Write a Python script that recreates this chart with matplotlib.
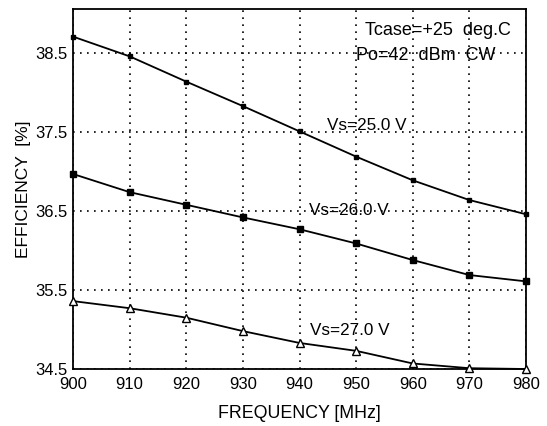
import matplotlib
matplotlib.use("Agg")
import matplotlib.pyplot as plt

plt.rcParams['font.family'] = ['Liberation Sans', 'DejaVu Sans']

freq = [900, 910, 920, 930, 940, 950, 960, 970, 980]
eff_25v = [38.71, 38.46, 38.14, 37.83, 37.51, 37.19, 36.89, 36.64, 36.46]
eff_26v = [36.97, 36.74, 36.58, 36.42, 36.27, 36.09, 35.88, 35.69, 35.61]
eff_27v = [35.36, 35.27, 35.15, 34.98, 34.83, 34.73, 34.57, 34.51, 34.50]

yticks = [34.5, 35.5, 36.5, 37.5, 38.5]

fig = plt.figure(figsize=(5.47, 4.26), dpi=100)
ax = fig.add_axes([0.1335, 0.1338, 0.8281, 0.8451])

ax.plot(freq, eff_25v, color='black', lw=1.3, marker='s', ms=2.5,
        clip_on=False, zorder=3)
ax.plot(freq, eff_26v, color='black', lw=1.3, marker='s', ms=4.8,
        clip_on=False, zorder=3)
ax.plot(freq, eff_27v, color='black', lw=1.3, marker='^', ms=5.5,
        mfc='white', mec='black', mew=1, clip_on=False, zorder=3)

ax.set_xlim(900, 980)
ax.set_ylim(34.5, 39.06)
ax.set_xticks(freq)
ax.set_yticks(yticks)
ax.set_yticklabels([str(v) for v in yticks])
ax.tick_params(direction='in', length=0, labelsize=12, pad=4)
ax.tick_params(axis='x', pad=6)
ax.grid(True, color='black', linestyle=(0, (1, 3.2)), linewidth=1.2)
for s in ax.spines.values():
    s.set_linewidth(1.3)

ax.set_xlabel('FREQUENCY [MHz]', fontsize=12.8, labelpad=9)
ax.set_ylabel('EFFICIENCY  [%]', fontsize=12.5, labelpad=3)

ax.text(964.5, 38.79, 'Tcase=+25  deg.C', fontsize=13, ha='center', va='center')
ax.text(962.3, 38.475, 'Po=42  dBm  CW', fontsize=13, ha='center', va='center')
ax.text(951.9, 37.59, 'Vs=25.0 V', fontsize=12.3, ha='center', va='center')
ax.text(948.7, 36.51, 'Vs=26.0 V', fontsize=12.3, ha='center', va='center')
ax.text(948.9, 34.99, 'Vs=27.0 V', fontsize=12.3, ha='center', va='center')

fig.savefig('out.png', dpi=100)
